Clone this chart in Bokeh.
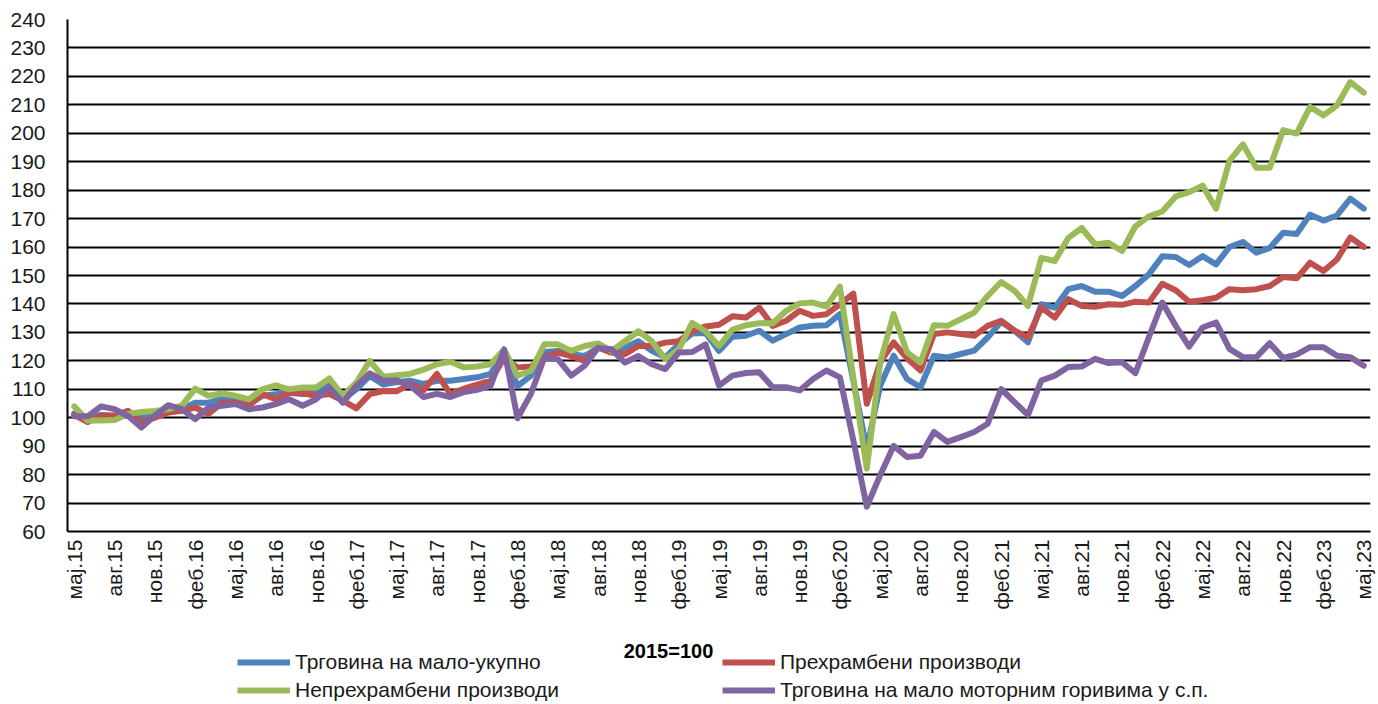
import math
from bokeh.plotting import figure
from bokeh.layouts import column
from bokeh.models import Range1d, FixedTicker, Legend, LegendItem, Label
from bokeh.embed import file_html
from bokeh.resources import INLINE

# ---------------- data ----------------
tick_labels = ["мај.15", "авг.15", "нов.15", "феб.16", "мај.16", "авг.16", "нов.16",
               "феб.17", "мај.17", "авг.17", "нов.17", "феб.18", "мај.18", "авг.18",
               "нов.18", "феб.19", "мај.19", "авг.19", "нов.19", "феб.20", "мај.20",
               "авг.20", "нов.20", "феб.21", "мај.21", "авг.21", "нов.21", "феб.22",
               "мај.22", "авг.22", "нов.22", "феб.23", "мај.23"]

series_names = ["Трговина на мало-укупно", "Прехрамбени производи",
                "Непрехрамбени производи", "Трговина на мало моторним горивима у с.п."]

total = [101.5, 100, 101, 100.7, 101, 100, 101.3, 102.4, 103, 105.3, 105.3, 106.5, 106.5,
         104.8, 107.7, 108.3, 108.8, 108.3, 108.3, 111.4, 106.5, 110, 114.7, 111.7, 112.5,
         113, 111.9, 113, 113, 113.6, 114.2, 115.4, 123, 111.1, 114.8, 123.1, 123.5, 122.3,
         121.7, 124.6, 124, 124.6, 126.9, 123.5, 121.2, 125.8, 129.6, 129.8, 123.5, 128.5,
         128.8, 130.6, 127.1, 129.4, 131.7, 132.3, 132.5, 136.4, 113, 89, 111.3, 121.8,
         113.6, 110.7, 121.8, 121.2, 122.4, 123.6, 128.2, 133.7, 130.6, 126.5, 139.9, 138.7,
         145.2, 146.3, 144.3, 144.3, 142.8, 146.3, 150.4, 156.8, 156.5, 153.7, 156.8, 153.9,
         160, 161.8, 158, 159.7, 165, 164.6, 171.4, 169.3, 171.1, 177, 173.5]

food = [101, 98.5, 100.7, 100.7, 102.4, 98.4, 100, 101.8, 102.4, 103.6, 101.3, 105.3, 105.3,
        104.2, 108.3, 106.5, 108.8, 108.6, 107.7, 108.3, 106, 103.3, 108.3, 109.4, 109.3,
        111.9, 109.6, 115.4, 108.4, 110.2, 111.6, 113, 121, 117.7, 118, 121.2, 122.9, 121.7,
        120, 124.6, 122.9, 122.3, 125.2, 125.2, 126.4, 126.9, 130.4, 132.1, 132.7, 135.7,
        135.2, 138.7, 132.3, 134.1, 137.6, 135.8, 136.4, 139.9, 143.6, 104.9, 119.5, 126.5,
        120.9, 116.6, 129.4, 130, 129.4, 128.8, 132.3, 134.1, 130.6, 128.2, 138.7, 135.2,
        141.7, 139.3, 139, 139.9, 139.7, 140.8, 140.5, 147.1, 144.8, 140.8, 141.3, 142.2,
        145.2, 144.8, 145.2, 146.3, 149.5, 149, 154.5, 151.6, 155.6, 163.4, 160]

nonfood = [104, 99, 99, 99.2, 101.3, 102, 102.4, 103, 104.2, 110.2, 107.7, 108.5, 107.7,
           106.5, 110, 111.4, 110, 110.6, 110.6, 113.8, 107.7, 112.3, 120, 114.4, 114.9,
           115.4, 116.9, 118.8, 119.7, 117.7, 118, 118.8, 124, 114.8, 116.5, 125.8, 125.8,
           123.5, 125.2, 126.1, 123.5, 126.9, 130.4, 126.9, 120.6, 124, 133.3, 130.4, 125.2,
           131, 132.5, 133.2, 133.2, 137.6, 140.2, 140.5, 139.1, 146.1, 114, 82.1, 119.5,
           136.4, 123, 119.5, 132.5, 132.3, 134.6, 137, 142.8, 147.7, 144.6, 139.3, 156.2,
           155.1, 163.2, 166.7, 160.9, 161.5, 158.6, 167.3, 170.8, 172.5, 177.8, 179.3, 181.6,
           173.5, 190.3, 196.1, 187.9, 187.9, 201.1, 199.9, 209.3, 206.3, 209.8, 218, 214.3]

fuel = [100.5, 100.5, 104, 103, 100.7, 96.6, 100.7, 104.4, 103, 99.5, 103.6, 104.2, 104.8,
        103, 103.6, 104.8, 106.5, 104.2, 106.5, 110.6, 105.3, 111.2, 115.6, 113, 113.2,
        111.3, 107.3, 108.4, 107.3, 109, 109.8, 111.3, 124, 99.8, 108.4, 121.2, 120.6, 114.8,
        118.3, 124.6, 124, 119.4, 121.7, 118.8, 117.1, 122.9, 123.1, 125.8, 111.3, 114.8,
        115.7, 116, 110.7, 110.7, 109.6, 113.6, 116.6, 114.2, 92, 68.7, 79.8, 90.1, 86.2,
        86.6, 95, 91.5, 93.2, 95, 97.9, 110.1, 105.5, 101, 113.1, 114.8, 117.8, 118, 120.7,
        119.2, 119.5, 115.7, 128.3, 140.5, 132.3, 125, 131.7, 133.5, 124.2, 121.3, 121.3,
        126.2, 121, 122.2, 124.8, 124.8, 121.8, 121.3, 118.3]

base_note = "2015=100"
colors = ["#4F81BD", "#C0504D", "#9BBB59", "#8064A2"]

# ---------------- main chart ----------------
FONT = "Liberation Sans"
TXT = "#1a1a1a"
W = 1376
n = len(total)
x = list(range(n))
all_series = [total, food, nonfood, fuel]

p = figure(width=W, height=612, output_backend="svg", toolbar_location=None,
           title=None, x_range=Range1d(-0.5, n - 0.5), y_range=Range1d(60, 240),
           min_border_left=67, min_border_right=6, min_border_top=19,
           min_border_bottom=78)
p.outline_line_color = None
p.background_fill_color = "white"
p.border_fill_color = "white"

for ys, c in zip(all_series, colors):
    p.line(x, ys, line_color=c, line_width=6, line_join="round", line_cap="round")

p.xaxis.ticker = FixedTicker(ticks=list(range(0, n, 3)))
p.xaxis.major_label_overrides = {i * 3: lab for i, lab in enumerate(tick_labels)}
p.xaxis.major_label_orientation = math.pi / 2
p.xaxis.major_tick_line_color = None
p.xaxis.minor_tick_line_color = None
p.xaxis.major_tick_out = 0
p.xaxis.major_tick_in = 0
p.xaxis.major_label_standoff = 8
p.xaxis.axis_line_color = "black"
p.xaxis.axis_line_width = 2
p.xaxis.major_label_text_font = FONT
p.xaxis.major_label_text_font_size = "21px"
p.xaxis.major_label_text_color = TXT

p.yaxis.ticker = FixedTicker(ticks=list(range(60, 250, 10)))
p.yaxis.major_tick_line_color = None
p.yaxis.minor_tick_line_color = None
p.yaxis.major_tick_out = 0
p.yaxis.major_tick_in = 0
p.yaxis.major_label_standoff = 22
p.yaxis.axis_line_color = "black"
p.yaxis.axis_line_width = 2
p.yaxis.major_label_text_font = FONT
p.yaxis.major_label_text_font_size = "21px"
p.yaxis.major_label_text_color = TXT

p.xgrid.grid_line_color = None
p.ygrid.grid_line_color = "black"
p.ygrid.grid_line_width = 2

# ---------------- legend strip (frame aligned with the chart above) ----------------
p2 = figure(width=W, height=92, output_backend="svg", toolbar_location=None,
            title=None, x_axis_type=None, y_axis_type=None,
            x_range=Range1d(-0.5, n - 0.5), y_range=Range1d(0, 1),
            min_border_left=0, min_border_right=0, min_border_top=0, min_border_bottom=0)
p2.outline_line_color = None
p2.xgrid.grid_line_color = None
p2.ygrid.grid_line_color = None
p2.border_fill_color = "white"
p2.background_fill_color = "white"

# legend keys: same series, drawn outside this strip's visible y-range
keys = [p2.line(x, ys, line_color=c, line_width=6) for ys, c in zip(all_series, colors)]

def make_legend(items, vx):
    return Legend(items=items, location=(vx, 2), orientation="vertical",
                  border_line_color=None, background_fill_alpha=0,
                  label_text_font=FONT, label_text_font_size="21px",
                  label_text_color=TXT, glyph_width=53, glyph_height=20,
                  label_height=20, label_standoff=5, spacing=4, padding=0, margin=0)

leg1 = make_legend([LegendItem(label=series_names[0], renderers=[keys[0]]),
                    LegendItem(label=series_names[2], renderers=[keys[2]])], 170)
leg2 = make_legend([LegendItem(label=series_names[1], renderers=[keys[1]]),
                    LegendItem(label=series_names[3], renderers=[keys[3]])], 655)
p2.add_layout(leg1)
p2.add_layout(leg2)

note = Label(x=601, y=54, x_units="screen", y_units="screen", text=base_note,
             text_font=FONT, text_font_size="20px", text_font_style="bold",
             text_align="center", text_baseline="middle", text_color="black")
p2.add_layout(note)

layout = column(p, p2, spacing=0)
open("out.html", "w").write(file_html(layout, INLINE))
